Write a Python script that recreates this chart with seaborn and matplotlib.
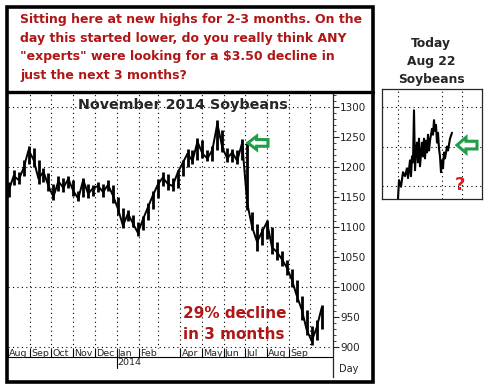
import pandas as pd
import matplotlib
matplotlib.use("Agg")
import matplotlib.pyplot as plt
from matplotlib.patches import Rectangle, FancyArrow
from matplotlib.lines import Line2D
import seaborn as sns

# ---- data (weekly bars, Nov 2014 soybeans, cents/bu)
week_dates = pd.date_range("2013-08-02", "2014-10-17", freq="W-FRI")
closes = [1160, 1185, 1178, 1198, 1228, 1212, 1180, 1192, 1168, 1150,
          1176, 1165, 1180, 1160, 1147, 1178, 1155, 1165, 1168, 1158,
          1170, 1152, 1130, 1102, 1122, 1106, 1090, 1112, 1132, 1152,
          1170, 1182, 1172, 1168, 1190, 1206, 1222, 1210, 1242, 1222,
          1214, 1228, 1272, 1232, 1214, 1224, 1210, 1240, 1140, 1100,
          1075, 1092, 1108, 1066, 1058, 1046, 1032, 1012, 985, 962,
          928, 910, 932, 965]
highs = [1175, 1195, 1192, 1212, 1235, 1232, 1212, 1198, 1190, 1172,
         1185, 1182, 1185, 1178, 1160, 1182, 1172, 1170, 1175, 1172,
         1178, 1170, 1150, 1132, 1128, 1120, 1108, 1118, 1140, 1160,
         1180, 1192, 1188, 1182, 1195, 1212, 1230, 1228, 1248, 1245,
         1228, 1235, 1278, 1262, 1232, 1230, 1228, 1246, 1240, 1125,
         1105, 1098, 1112, 1100, 1075, 1060, 1045, 1030, 1012, 985,
         962, 935, 945, 970]
lows = [1150, 1170, 1172, 1185, 1205, 1200, 1172, 1175, 1160, 1145,
        1160, 1158, 1165, 1152, 1143, 1150, 1148, 1152, 1158, 1150,
        1160, 1140, 1120, 1098, 1110, 1100, 1085, 1095, 1112, 1130,
        1148, 1168, 1162, 1160, 1165, 1185, 1200, 1205, 1212, 1215,
        1210, 1210, 1228, 1225, 1208, 1208, 1205, 1212, 1128, 1095,
        1060, 1070, 1080, 1055, 1045, 1035, 1020, 1000, 975, 945,
        920, 903, 912, 930]

y_ticks = [900, 950, 1000, 1050, 1100, 1150, 1200, 1250, 1300]
month_labels = ["Aug", "Sep", "Oct", "Nov", "Dec", "Jan", "Feb", "",
                "Apr", "May", "Jun", "Jul", "Aug", "Sep", ""]
month_starts = pd.date_range("2013-08-01", "2014-10-01", freq="MS")

# small "today" inset (day index, price)
inset_x = [16, 17, 19, 21, 23, 25, 26, 28, 29, 30, 31, 32, 33, 34, 35,
           36, 37, 38, 40, 41, 42, 43, 44, 45, 46, 47, 48, 50, 51, 52,
           53, 54, 55, 56, 57, 58, 59, 60, 61, 62, 63, 65, 66, 68, 70]
inset_y = [867, 915, 898, 935, 925, 945, 920, 965, 925, 975, 960, 1092,
           940, 985, 1010, 960, 1020, 950, 1010, 975, 1020, 970, 1015,
           985, 1030, 990, 1015, 1045, 1030, 1067, 1040, 1055, 1010, 1035,
           995, 975, 935, 965, 945, 985, 970, 1000, 990, 1020, 1035]

headline = ["Sitting here at new highs for 2-3 months. On the",
            "day this started lower, do you really think ANY",
            "\"experts\" were looking for a $3.50 decline in",
            "just the next 3 months?"]

RED = "#b01616"
GREEN = "#1e9e46"
W, H = 493, 392

sns.set_style("white")
plt.rcParams["font.family"] = ["DejaVu Sans"]


def box(x0, y0, x1, y1):
    # pixel box (top-left origin) -> figure fraction rect
    return [x0 / W, 1 - y1 / H, (x1 - x0) / W, (y1 - y0) / H]


def hollow_arrow(axis, x_tail, x_tip, yc, shaft, head, head_len):
    axis.add_patch(FancyArrow(x_tail, yc, x_tip - x_tail, 0, width=shaft,
                              head_width=head, head_length=head_len,
                              length_includes_head=True,
                              transform=axis.transAxes, fc="white",
                              ec=GREEN, lw=2.2, zorder=5))


fig = plt.figure(figsize=(W / 100, H / 100), dpi=100)

# ---- main price chart
ax = fig.add_axes(box(8, 93, 333, 349))
df = pd.DataFrame({"date": week_dates, "close": closes,
                   "high": highs, "low": lows})
ax.vlines(df["date"], df["low"], df["high"], color="black", lw=2.0)
sns.lineplot(data=df, x="date", y="close", ax=ax, color="black", lw=1.4)
ax.set_xlim(pd.Timestamp("2013-08-02"), pd.Timestamp("2014-11-02"))
ax.set_ylim(896.5, 1323)
ax.set_xlabel("")
ax.set_ylabel("")
ax.set_xticks(month_starts)
ax.set_xticklabels([])
ax.tick_params(axis="x", length=0)
ax.yaxis.tick_right()
ax.set_yticks(y_ticks)
ax.set_yticks(range(900, 1321, 10), minor=True)
ax.tick_params(axis="y", which="major", length=4, width=0.8, pad=1,
               labelsize=7.5, labelcolor="#222222")
ax.tick_params(axis="y", which="minor", length=2, width=0.6)
for s in ["left", "top", "bottom"]:
    ax.spines[s].set_visible(False)
ax.spines["right"].set_linewidth(0.9)
for d in month_starts[1:]:
    ax.axvline(d, color="black", lw=0.8, ls=(0, (1, 3)), zorder=0)
for v in [900, 1000, 1100, 1200, 1300]:
    ax.axhline(v, color="black", lw=0.8, ls=(0, (1, 3)), zorder=0)

ax.text(0.537, 0.955, "November 2014 Soybeans", transform=ax.transAxes,
        ha="center", va="center", fontsize=10.3, fontweight="bold")
ax.text(0.538, 0.098, "29% decline\nin 3 months", transform=ax.transAxes,
        ha="left", va="center", fontsize=11, fontweight="bold",
        color=RED, linespacing=1.55)
hollow_arrow(ax, 0.80, 0.738, 0.805, 0.026, 0.052, 0.027)

# ---- month / year rows under the chart
axm = fig.add_axes(box(8, 349, 333, 377), sharex=ax)
axm.set_ylim(0, 1)
axm.set_yticks([])
axm.tick_params(axis="x", length=0, labelbottom=False)
for s in ["left", "top", "bottom"]:
    axm.spines[s].set_visible(False)
axm.spines["right"].set_linewidth(0.9)
row = 1 - 8 / 28
axm.axhline(row, color="black", lw=0.8)
for d, lab in zip(month_starts, month_labels):
    if lab:
        axm.plot([d, d], [row, 1], color="black", lw=0.8)
        axm.text(d + pd.Timedelta(days=1.5), (row + 1) / 2, lab,
                 ha="left", va="center", fontsize=6.8)
jan = pd.Timestamp("2014-01-01")
axm.plot([jan, jan], [row, row - 11 / 28], color="black", lw=0.8)
axm.text(jan + pd.Timedelta(days=1.5), row - 5.5 / 28, "2014",
         ha="left", va="center", fontsize=6.8)
fig.text(349 / W, 1 - 369 / H, "Day", ha="center", va="center",
         fontsize=7, color="#222222")

# ---- frame and headline
fig.patches.append(Rectangle((7 / W, 1 - 382 / H), 366 / W, 375 / H,
                             transform=fig.transFigure, fill=False,
                             lw=2.6, ec="black"))
fig.lines.append(Line2D([7 / W, 373 / W], [1 - 92 / H, 1 - 92 / H],
                        transform=fig.transFigure, lw=2.4, color="black"))
for i, line in enumerate(headline):
    fig.text(20 / W, 1 - (20 + i * 18.4) / H, line, ha="left", va="center",
             fontsize=9, fontweight="bold", color=RED)

# ---- "today" inset
axi = fig.add_axes(box(382, 89, 482, 199))
sns.lineplot(x=inset_x, y=inset_y, ax=axi, color="black", lw=1.5)
axi.set_xlim(0, 100)
axi.set_ylim(867, 1146)
axi.set_xticks([])
axi.set_yticks([])
for s in axi.spines.values():
    s.set_linewidth(0.9)
for v in [16, 60, 80]:
    axi.axvline(v, color="black", lw=0.8, ls=(0, (1, 3)), zorder=0)
for v in [900, 1000, 1100]:
    axi.axhline(v, color="black", lw=0.8, ls=(0, (1, 3)), zorder=0)
hollow_arrow(axi, 0.95, 0.75, 0.49, 0.07, 0.14, 0.09)
axi.text(0.78, 0.125, "?", transform=axi.transAxes, ha="center",
         va="center", fontsize=13, fontweight="bold", color="#e01b1b")
for i, line in enumerate(["Today", "Aug 22", "Soybeans"]):
    fig.text(431 / W, 1 - (44 + i * 18) / H, line, ha="center",
             va="center", fontsize=8.8, fontweight="bold")

fig.savefig("out.png", dpi=100)
